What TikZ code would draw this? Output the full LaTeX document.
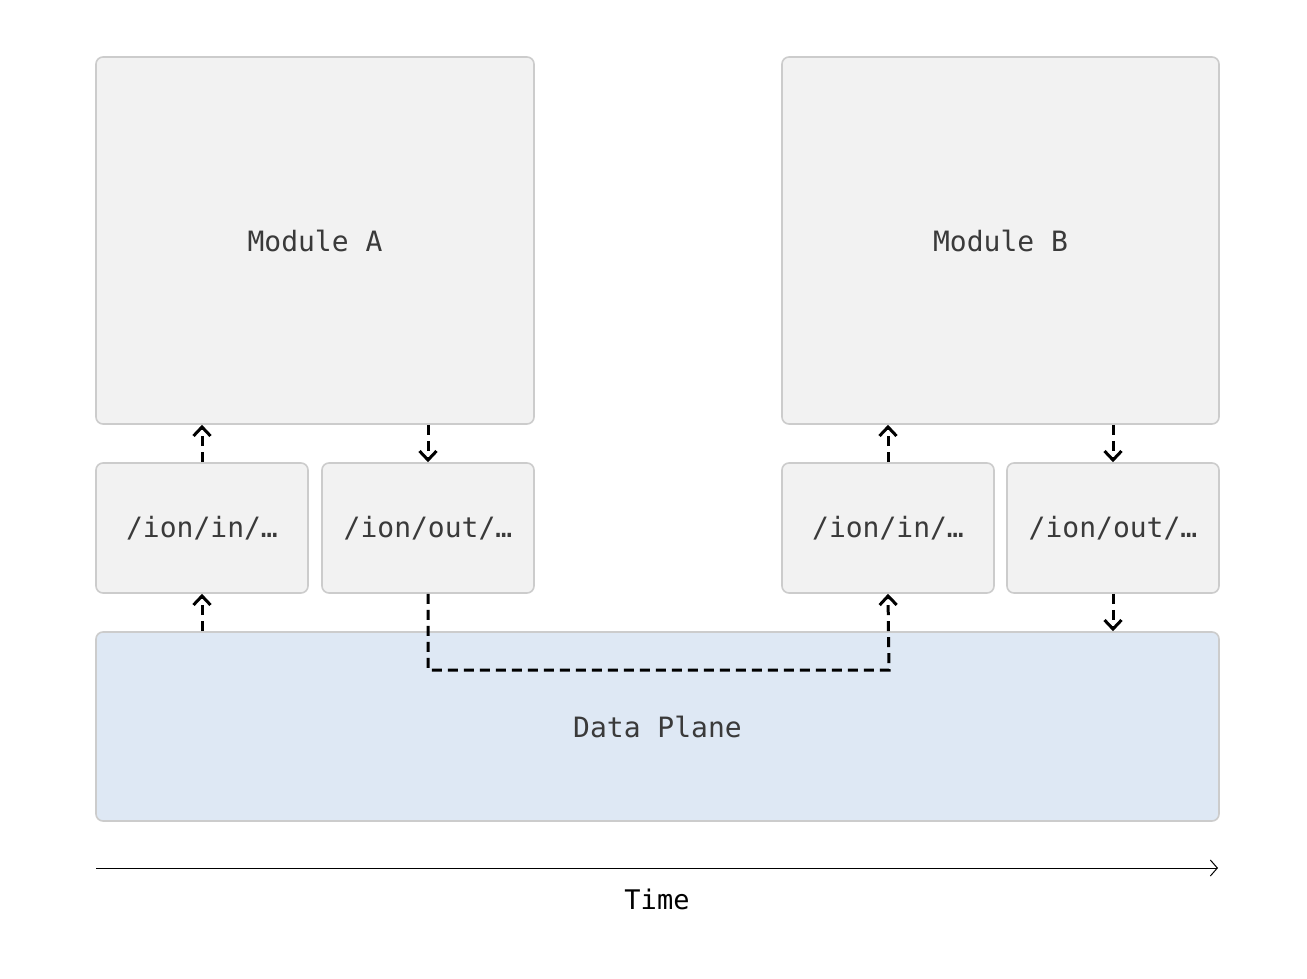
\documentclass[tikz,border=0pt]{standalone}
\usepackage{fontspec}
\setmonofont{DejaVu Sans Mono}
\usetikzlibrary{arrows.meta}
\definecolor{boxfill}{HTML}{F2F2F2}
\definecolor{boxline}{HTML}{CCCCCC}
\definecolor{planefill}{HTML}{DEE8F4}
\definecolor{labeltext}{HTML}{3A3A3A}
\tikzset{
  box/.style={draw=boxline, line width=1.6pt, fill=boxfill, rounded corners=7pt,
    font=\ttfamily\fontsize{28}{32}\selectfont, text=labeltext, inner sep=0pt},
  plane/.style={box, fill=planefill},
  flow/.style={line width=3pt, dash pattern=on 10pt off 6pt,
    -{Straight Barb[length=9pt,width=17pt,line width=3pt]}},
  timeline/.style={line width=1pt, -{Straight Barb[length=7pt,width=16pt,line width=1pt]}}
}
\begin{document}
\begin{tikzpicture}[x=1pt,y=-1pt]
\useasboundingbox (0,0) rectangle (1307,979);
\node[box, minimum width=438pt, minimum height=367pt] (ma) at (315,240.5) {Module A};
\node[box, minimum width=437pt, minimum height=367pt] (mb) at (1000.5,240.5) {Module B};
\node[box, minimum width=212pt, minimum height=130pt] (ina) at (202,528) {/ion/in/…};
\node[box, minimum width=212pt, minimum height=130pt] (outa) at (428,528) {/ion/out/…};
\node[box, minimum width=212pt, minimum height=130pt] (inb) at (888,528) {/ion/in/…};
\node[box, minimum width=212pt, minimum height=130pt] (outb) at (1113,528) {/ion/out/…};
\node[plane, minimum width=1123pt, minimum height=189pt] (dp) at (657.5,726.5) {Data Plane};

\coordinate (p1) at (428,670);
\coordinate (p2) at (889,670);

\draw[flow] (ina.north) -- (ina.north |- ma.south);
\draw[flow] (outa.north |- ma.south) -- (outa.north);
\draw[flow] (inb.north) -- (inb.north |- mb.south);
\draw[flow] (outb.north |- mb.south) -- (outb.north);
\draw[flow] (ina.south |- dp.north) -- (ina.south);
\draw[flow] (outb.south) -- (outb.south |- dp.north);
\draw[flow] (outa.south) -- (p1) -- (p2) -- (inb.south);

\coordinate (t0) at (96,868);
\coordinate (t1) at (1218,868);
\draw[timeline] (t0) -- (t1);
\node[font=\ttfamily\fontsize{27}{30}\selectfont, text=black] (time) at (657,899) {Time};
\end{tikzpicture}
\end{document}
